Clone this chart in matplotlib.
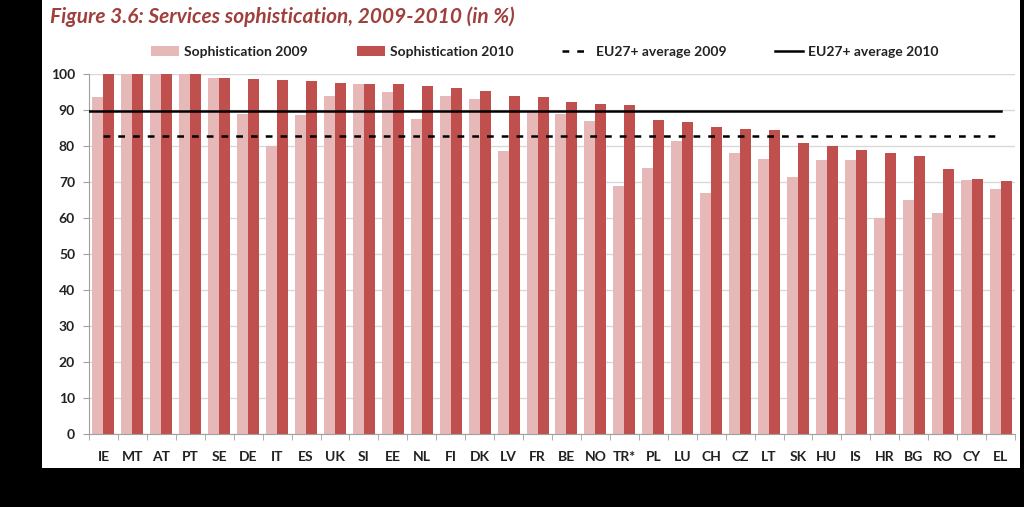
import matplotlib
matplotlib.use("Agg")
import matplotlib.pyplot as plt
from matplotlib.patches import Rectangle, Patch
from matplotlib.lines import Line2D
import numpy as np

countries = ["IE", "MT", "AT", "PT", "SE", "DE", "IT", "ES", "UK", "SI", "EE", "NL", "FI", "DK", "LV", "FR",
             "BE", "NO", "TR*", "PL", "LU", "CH", "CZ", "LT", "SK", "HU", "IS", "HR", "BG", "RO", "CY", "EL"]
soph_2009 = [93.5, 100, 100, 100, 99, 89, 80, 88.6, 94, 97.2, 95, 87.5, 94, 93, 78.5, 89.5,
             89, 87, 69, 74, 81.5, 67, 78, 76.5, 71.5, 76, 76, 60, 65, 61.5, 70.5, 68]
soph_2010 = [100, 100, 100, 100, 99, 98.7, 98.4, 98, 97.4, 97.2, 97.2, 96.8, 96, 95.2, 94, 93.5,
             92.3, 91.8, 91.3, 87.3, 86.6, 85.2, 84.8, 84.5, 80.7, 80, 79, 78, 77.3, 73.5, 70.8, 70.3]
eu_avg_2009 = 82.8
eu_avg_2010 = 89.7
yticks = list(range(0, 101, 10))

plt.rcParams['font.family'] = ['Lato', 'DejaVu Sans']

fig = plt.figure(figsize=(10.24, 5.07), dpi=100)
fig.patch.set_facecolor("black")
bg = Rectangle((42 / 1024, 1 - 468 / 507), (1020 - 42) / 1024, 468 / 507,
               transform=fig.transFigure, facecolor="white", edgecolor="none", zorder=-10)
fig.patches.append(bg)

ax = fig.add_axes([89 / 1024, 1 - 434 / 507, (1015 - 89) / 1024, (434 - 74) / 507])
ax.set_zorder(1)
ax.set_facecolor("white")

light = "#E6B9B8"
dark = "#C0504D"
x = np.arange(len(countries))
w = 0.38
ax.bar(x - w / 2, soph_2009, width=w, color=light, zorder=2)
ax.bar(x + w / 2, soph_2010, width=w, color=dark, zorder=2)

n = len(countries)
dash = (0, (2.7, 3.2))
ax.plot([-0.5, n - 1], [eu_avg_2010, eu_avg_2010], color="black", lw=1.8, zorder=3)
ax.plot([0, n - 1.1], [eu_avg_2009, eu_avg_2009], color="black", lw=1.8, ls=dash, zorder=3)

ax.set_xlim(-0.5, n - 0.5)
ax.set_ylim(0, 100)
ax.set_yticks(yticks)
ax.set_xticks(x)
ax.set_xticklabels(countries, fontsize=10, fontweight="bold", color="#222222")
ax.set_yticklabels([str(v) for v in yticks], fontsize=10, fontweight="bold", color="#222222")
ax.grid(axis="y", color="#D9D9D9", lw=1, zorder=1)
ax.set_axisbelow(True)
for s in ["top", "right"]:
    ax.spines[s].set_visible(False)
ax.spines["left"].set_color("#A0A0A0")
ax.spines["bottom"].set_color("#A0A0A0")
ax.tick_params(axis="y", length=4, color="#A0A0A0", pad=6)
ax.set_xticks(np.arange(-0.5, n, 1), minor=True)
ax.tick_params(axis="x", which="major", length=0, pad=12)
ax.tick_params(axis="x", which="minor", length=4, color="#A0A0A0")

fig.text(50 / 1024, 1 - 17 / 507, "Figure 3.6: Services sophistication, 2009-2010 (in %)",
         fontsize=15, fontweight="bold", fontstyle="italic", color="#A0403D", va="center", ha="left")

handles = [Patch(facecolor=light, edgecolor="none"), Patch(facecolor=dark, edgecolor="none"),
           Line2D([0], [0], color="black", lw=1.8, ls=dash), Line2D([0], [0], color="black", lw=1.8)]
labels = ["Sophistication 2009", "Sophistication 2010", "EU27+ average 2009", "EU27+ average 2010"]
leg = fig.legend(handles, labels, loc="center", bbox_to_anchor=(545 / 1024, 1 - 52 / 507), ncol=4,
                 frameon=False, handlelength=2.0, handletextpad=0.4, columnspacing=3.5,
                 prop={"weight": "bold", "size": 10})
for t in leg.get_texts():
    t.set_color("#222222")

fig.savefig("out.png", dpi=100, facecolor=fig.get_facecolor())
